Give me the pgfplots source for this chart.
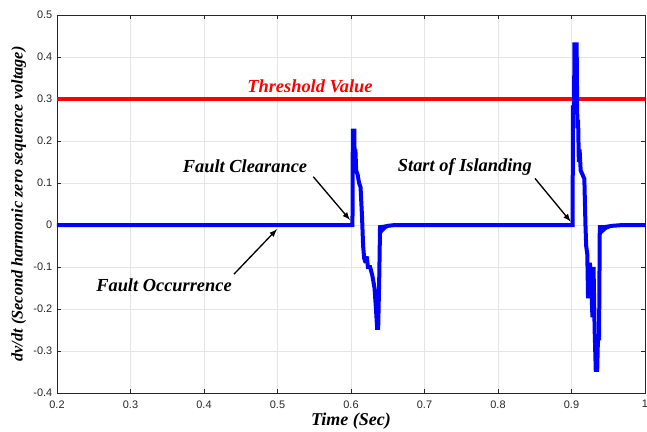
\documentclass[border=0pt]{standalone}
\usepackage{pgfplots}
\pgfplotsset{compat=1.18}
\usepackage{fontspec}
\setmainfont{Liberation Serif}
\newfontfamily\arialf{Liberation Sans}
\definecolor{axgray}{gray}{0.15}
\begin{document}
\begin{tikzpicture}
\begin{axis}[
  at={(0,0)}, anchor=south west,
  scale only axis,
  width=441pt, height=283.5pt,
  xmin=0.2, xmax=1.0, ymin=-0.4, ymax=0.5,
  xtick={0.2,0.3,...,1.0},
  ytick={-0.4,-0.3,...,0.5},
  xticklabels={0.2,0.3,0.4,0.5,0.6,0.7,0.8,0.9,1},
  yticklabels={-0.4,-0.3,-0.2,-0.1,0,0.1,0.2,0.3,0.4,0.5},
  /pgf/number format/assume math mode=true,
  tick label style={font=\arialf\fontsize{8.2}{9}\selectfont, text=axgray},
  xticklabel style={yshift=-2pt},
  tick align=inside,
  major tick length=3pt,
  tick style={axgray, line width=0.4pt},
  axis line style={axgray, line width=0.5pt},
  grid=major,
  grid style={gray!20, line width=0.4pt},
  xlabel={\bfseries\itshape Time (Sec)},
  ylabel={\bfseries\itshape dv/dt (Second harmonic zero sequence voltage)},
  label style={font=\fontsize{12.2}{14}\selectfont},
  xlabel style={at={(axis description cs:0.5,-0.052)}, anchor=north, inner sep=0pt, font=\fontsize{13.5}{15}\selectfont},
  ylabel style={at={(axis description cs:-0.065,0.5)}, anchor=center},
  clip=true,
]
% threshold
\addplot[red, line width=3pt] coordinates {(0.2,0.3) (1.0,0.3)};
% decaying oscillation bands
\addplot[blue, fill=blue, draw=none] coordinates {(0.6395,0) (0.6395,-0.028) (0.643,-0.018) (0.648,-0.009) (0.655,-0.003) (0.662,0)};
\addplot[blue, fill=blue, draw=none] coordinates {(0.9385,0) (0.9385,-0.03) (0.942,-0.02) (0.948,-0.011) (0.956,-0.004) (0.966,0)};
% signal
\addplot[blue, line width=3pt, line join=miter, miter limit=2] coordinates {
(0.2,0) (0.6020,0)
(0.6025,0.225) (0.6045,0.225) (0.6050,0.15) (0.6060,0.18) (0.6070,0.13)
(0.6090,0.12) (0.6110,0.10) (0.6130,0.09) (0.6150,0.02) (0.6165,-0.05)
(0.6180,-0.08) (0.6200,-0.09) (0.6215,-0.075) (0.6230,-0.10) (0.6260,-0.10)
(0.6290,-0.12) (0.6320,-0.15) (0.6340,-0.20) (0.6355,-0.245) (0.6370,-0.245)
(0.6385,-0.12) (0.6395,-0.005) (0.645,-0.004) (0.65,-0.002) (0.66,0)
(0.9015,0)
(0.9020,0.28) (0.9035,0.28) (0.9040,0.43) (0.9070,0.43) (0.9080,0.23)
(0.9090,0.25) (0.9100,0.15) (0.9110,0.18) (0.9125,0.13) (0.9150,0.12)
(0.9175,0.11) (0.9190,0.0) (0.9200,-0.05) (0.9215,-0.07) (0.9225,-0.17)
(0.9240,-0.17) (0.9250,-0.09) (0.9265,-0.12) (0.9285,-0.22) (0.9300,-0.10)
(0.9315,-0.25) (0.9330,-0.345) (0.9350,-0.345) (0.9360,-0.27) (0.9375,-0.27)
(0.9385,-0.005) (0.945,-0.005) (0.955,-0.002) (0.97,0) (1.0,0)
};
% annotations
\node[red, font=\bfseries\itshape\fontsize{13.8}{15}\selectfont] at (axis cs:0.5442,0.331) {Threshold Value};
\node[font=\bfseries\itshape\fontsize{13.8}{15}\selectfont] at (axis cs:0.4558,0.139) {Fault Clearance};
\node[font=\bfseries\itshape\fontsize{13.8}{15}\selectfont] at (axis cs:0.755,0.139) {Start of Islanding};
\node[font=\bfseries\itshape\fontsize{13.8}{15}\selectfont] at (axis cs:0.3456,-0.143) {Fault Occurrence};
\draw[-latex, line width=1pt] (axis cs:0.5487,0.115) -- (axis cs:0.5986,0.012);
\draw[-latex, line width=1pt] (axis cs:0.8503,0.111) -- (axis cs:0.8989,0.008);
\draw[-latex, line width=1pt] (axis cs:0.4408,-0.117) -- (axis cs:0.4993,-0.01);
\end{axis}
\pgfresetboundingbox
\path[use as bounding box] (-42.75pt,-29.25pt) rectangle (442.5pt,294.75pt);
\end{tikzpicture}
\end{document}
